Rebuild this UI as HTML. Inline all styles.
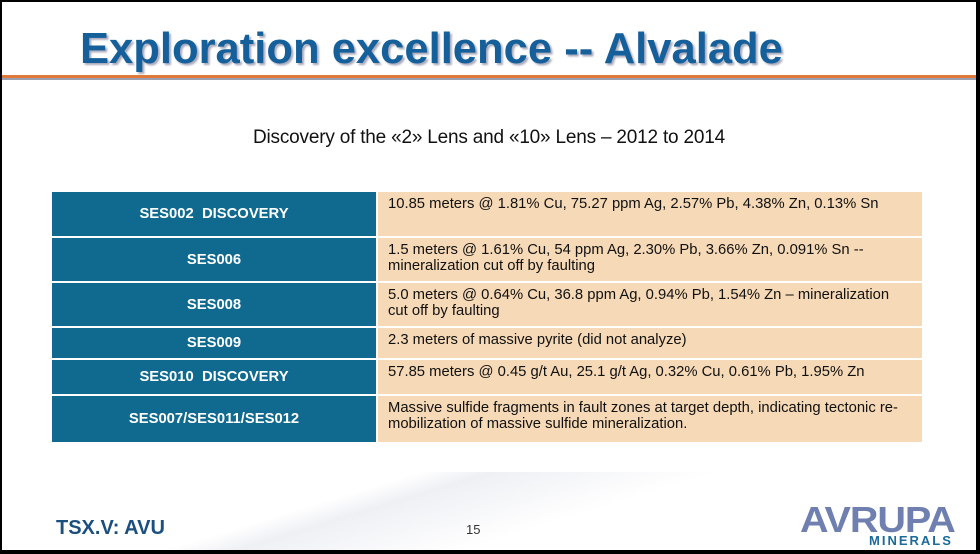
<!DOCTYPE html>
<html><head><style>
body{margin:0;width:980px;height:554px;overflow:hidden;background:#000;font-family:"Liberation Sans",Arial,sans-serif}
#s{position:absolute;left:2px;top:2px;width:974px;height:548px;background:#fff;overflow:hidden}
.t{position:absolute;left:78px;top:22px;font-size:44px;font-weight:bold;color:#15609a;text-shadow:2px 2px 2px #aab;transform:scaleX(0.99);transform-origin:left;white-space:nowrap}
.l1{position:absolute;left:0;top:73px;width:974px;height:3px;background:#e07a3a}
.l2{position:absolute;left:0;top:76px;width:974px;height:2px;background:#9aa0b0}
.sub{position:absolute;left:0;width:974px;top:125px;text-align:center;font-size:19px;color:#111;letter-spacing:-0.2px}
table{position:absolute;left:48px;top:188px;width:874px;border-collapse:collapse}
td{border:2px solid #fff;padding:0}
td.a{background:#106a8f;color:#fff;font-weight:bold;text-align:center;width:324px;font-size:14.8px}
td.b{background:#f6d9b6;color:#111;vertical-align:top;padding:4px 10px;font-size:14.8px;line-height:16px}
.f{position:absolute;left:54px;top:515px;font-size:20px;font-weight:bold;color:#1a4f7f}
.n{position:absolute;left:464px;top:520px;font-size:13px;color:#333}
.av{position:absolute;left:798px;top:497px;font-size:36px;font-weight:bold;color:#6f7fb0;letter-spacing:-1px;transform:scaleX(1.1);transform-origin:left}
.mi{position:absolute;left:867px;top:531px;font-size:13px;font-weight:bold;color:#1a6a9a;letter-spacing:2px}
.sw{position:absolute;left:60px;top:470px;width:900px;height:90px;background:linear-gradient(163deg,transparent 30%,#eef0f4 36%,transparent 55%)}
</style></head><body><div id="s">
<div class="sw"></div>
<div class="t">Exploration excellence -- Alvalade</div>
<div class="l1"></div><div class="l2"></div>
<div class="sub">Discovery of the «2» Lens and «10» Lens – 2012 to 2014</div>
<table>
<tr style="height:46px"><td class="a">SES002&nbsp; DISCOVERY</td><td class="b">10.85 meters @ 1.81% Cu, 75.27 ppm Ag, 2.57% Pb, 4.38% Zn, 0.13% Sn</td></tr>
<tr style="height:45px"><td class="a">SES006</td><td class="b">1.5 meters @ 1.61% Cu, 54 ppm Ag, 2.30% Pb, 3.66% Zn, 0.091% Sn --<br>mineralization cut off by faulting</td></tr>
<tr style="height:45px"><td class="a">SES008</td><td class="b">5.0 meters @ 0.64% Cu, 36.8 ppm Ag, 0.94% Pb, 1.54% Zn – mineralization<br>cut off by faulting</td></tr>
<tr style="height:32px"><td class="a">SES009</td><td class="b">2.3 meters of massive pyrite (did not analyze)</td></tr>
<tr style="height:36px"><td class="a">SES010&nbsp; DISCOVERY</td><td class="b">57.85 meters @ 0.45 g/t Au, 25.1 g/t Ag, 0.32% Cu, 0.61% Pb, 1.95% Zn</td></tr>
<tr style="height:48px"><td class="a">SES007/SES011/SES012</td><td class="b">Massive sulfide fragments in fault zones at target depth, indicating tectonic re-<br>mobilization of massive sulfide mineralization.</td></tr>
</table>
<div class="f">TSX.V: AVU</div>
<div class="n">15</div>
<div class="av">AVRUPA</div>
<div class="mi">MINERALS</div>
</div></body></html>
